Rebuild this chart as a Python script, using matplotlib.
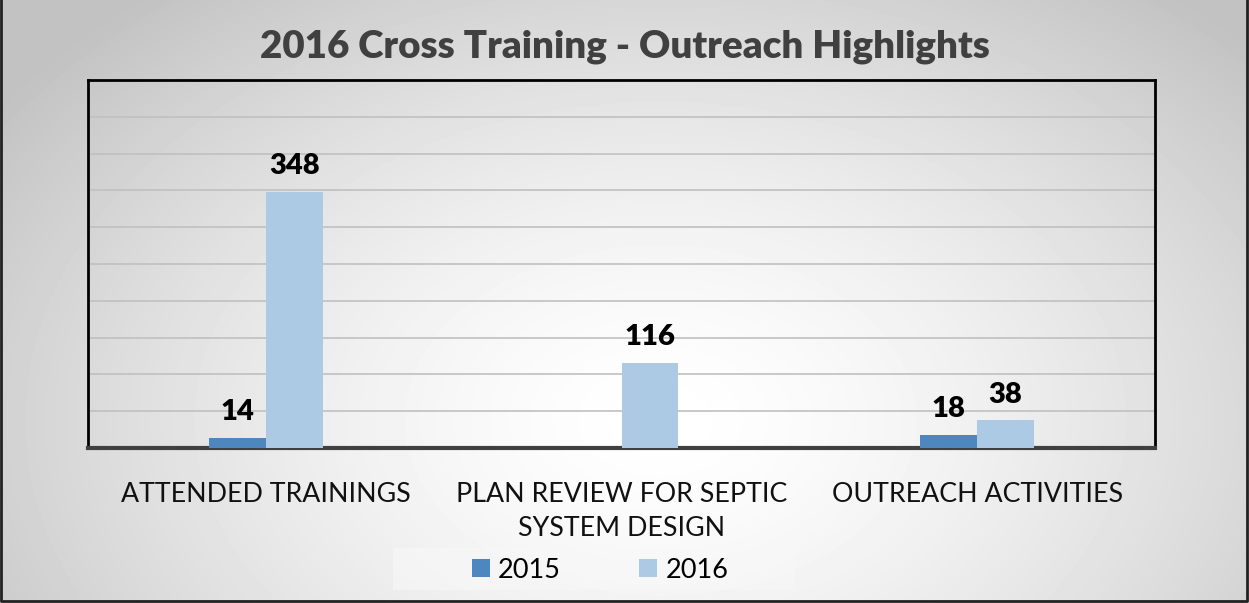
import numpy as np
import matplotlib
matplotlib.use("Agg")
from matplotlib import pyplot as plt
from matplotlib.patches import Rectangle

categories = ["ATTENDED TRAININGS", "PLAN REVIEW FOR SEPTIC\nSYSTEM DESIGN", "OUTREACH ACTIVITIES"]
series_names = ["2015", "2016"]
values_2015 = [14, np.nan, 18]
values_2016 = [348, 116, 38]
colors = ["#4E86BE", "#ADCAE4"]

plt.rcParams['font.family'] = ['Lato', 'DejaVu Sans']

fig = plt.figure(figsize=(12.49, 6.03), dpi=100)

# radial gradient background
bg = fig.add_axes([0, 0, 1, 1], zorder=-10)
yy, xx = np.mgrid[0:603, 0:1249]
r = np.sqrt(((xx - 660) / 760.0) ** 2 + ((yy - 420) / 520.0) ** 2)
shade = np.clip(1.0 - 0.22 * r ** 1.5, 0.76, 1.0)
bg.imshow(shade, cmap="gray", vmin=0, vmax=1, aspect="auto", extent=[0, 1249, 603, 0])
bg.add_patch(Rectangle((393, 548), 402, 42, fc="#f8f8f8", ec="none", alpha=0.6))
bg.plot([1, 1, 1247, 1247], [0, 601, 601, 0], color="#222222", lw=2)
bg.set_xlim(0, 1249)
bg.set_ylim(603, 0)
bg.axis("off")

# plot box: x 88..1155, y 80..448 in pixels
ax = fig.add_axes([88 / 1249, 1 - 448 / 603, (1155 - 88) / 1249, (448 - 80) / 603])
ax.set_facecolor("none")

x = np.arange(len(categories))
w = 0.16
b1 = ax.bar(x - w / 2, values_2015, w, color=colors[0], label=series_names[0], zorder=3)
b2 = ax.bar(x + w / 2, values_2016, w, color=colors[1], label=series_names[1], zorder=3)

for bars, vals in [(b1, values_2015), (b2, values_2016)]:
    for rect, v in zip(bars, vals):
        if np.isnan(v):
            continue
        ax.text(rect.get_x() + rect.get_width() / 2, v + 17, str(int(v)),
                ha="center", va="bottom", fontsize=21, fontweight="heavy", color="black")

ax.set_xlim(-0.5, 2.5)
ax.set_ylim(0, 500)
ax.set_yticks(np.arange(0, 501, 50))
ax.yaxis.grid(True, color="#c0c0c0", lw=1.2, zorder=0)
ax.tick_params(axis="y", left=False, labelleft=False)
ax.tick_params(axis="x", bottom=False, pad=21)
ax.set_xticks(x)
ax.set_xticklabels(categories, fontsize=19.3, color="#111111", linespacing=1.45, va="top")

for side in ["top", "left", "right"]:
    ax.spines[side].set_color("black")
    ax.spines[side].set_linewidth(2)
ax.spines["bottom"].set_color("#404040")
ax.spines["bottom"].set_linewidth(3)

fig.text(0.5, 1 - 47 / 603, "2016 Cross Training - Outreach Highlights", ha="center", va="center",
         fontsize=27.7, fontweight="heavy", color="#404040")

leg = fig.legend(loc="center", bbox_to_anchor=(600 / 1249, 1 - 570 / 603), ncol=2, fontsize=19.5,
                 frameon=False, handlelength=0.67, handleheight=0.67, handletextpad=0.3,
                 columnspacing=2.9, borderpad=0.3)
for t in leg.get_texts():
    t.set_color("black")

fig.savefig("out.png", dpi=100)
